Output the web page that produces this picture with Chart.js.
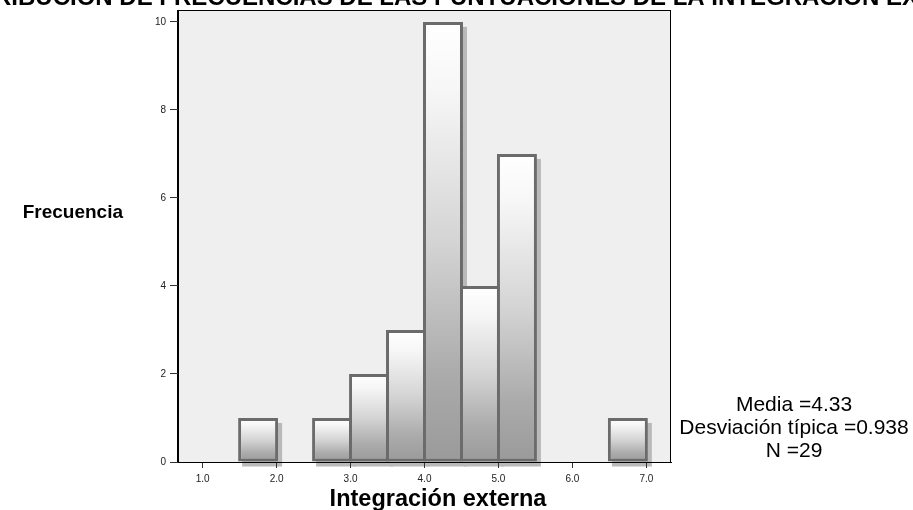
<!DOCTYPE html>
<html>
<head>
<meta charset="utf-8">
<script src="https://cdn.jsdelivr.net/npm/chart.js@4/dist/chart.umd.min.js"></script>
<style>
  html, body { margin: 0; padding: 0; background: #ffffff; }
  #wrap { width: 913px; height: 510px; position: relative; }
</style>
</head>
<body>
<div id="wrap"><canvas id="c" width="913" height="510"></canvas></div>
<script>
// ---- data ----
const binCenters = [1.75, 2.75, 3.25, 3.75, 4.25, 4.75, 5.25, 6.75];
const frequencies = [1, 1, 2, 3, 10, 4, 7, 1];
const xTickValues = [1, 2, 3, 4, 5, 6, 7];
const xTickLabels = ['1.0', '2.0', '3.0', '4.0', '5.0', '6.0', '7.0'];
const yTickValues = [0, 2, 4, 6, 8, 10];
const yTickLabels = ['0', '2', '4', '6', '8', '10'];
const chartTitle = 'DISTRIBUCIÓN DE FRECUENCIAS DE LAS PUNTUACIONES DE LA INTEGRACIÓN EXTERNA';
const xAxisTitle = 'Integración externa';
const yAxisTitle = 'Frecuencia';
const statsLines = ['Media =4.33', 'Desviación típica =0.938', 'N =29'];

const FONT = 'Arial, "Liberation Sans", Helvetica, sans-serif';

const histPoints = binCenters.map((x, i) => ({ x: x, y: frequencies[i] }));

function barGradient(ctx) {
  const chart = ctx.chart;
  if (ctx.type !== 'data' || !ctx.raw || !chart.scales || !chart.scales.y) return '#d0d0d0';
  const ys = chart.scales.y;
  const top = ys.getPixelForValue(ctx.raw.y);
  const bot = ys.getPixelForValue(0);
  if (!isFinite(top) || !isFinite(bot) || top === bot) return '#d0d0d0';
  const g = chart.ctx.createLinearGradient(0, top, 0, bot);
  g.addColorStop(0, '#ffffff');
  g.addColorStop(0.15, '#f7f7f7');
  g.addColorStop(0.5, '#d4d4d4');
  g.addColorStop(0.8, '#ababab');
  g.addColorStop(1, '#9a9a9a');
  return g;
}

const decorPlugin = {
  id: 'decor',
  beforeDraw(chart) {
    const { ctx, chartArea: a } = chart;
    ctx.save();
    ctx.fillStyle = '#efefef';
    ctx.fillRect(a.left, a.top, a.right - a.left, a.bottom - a.top);
    // drop shadows of bars
    ctx.fillStyle = '#b9b9b9';
    const meta = chart.getDatasetMeta(0);
    meta.data.forEach(el => {
      const p = el.getProps(['x', 'y', 'base', 'width'], true);
      ctx.fillRect(p.x - p.width / 2 + 4, p.y + 5, p.width, p.base - p.y);
    });
    // frame
    ctx.strokeStyle = '#000000';
    ctx.lineWidth = 1;
    ctx.strokeRect(Math.round(a.left) - 0.5, Math.round(a.top) + 0.5,
                   Math.round(a.right - a.left), Math.round(a.bottom - a.top));
    ctx.restore();
  },
  afterDraw(chart) {
    const { ctx } = chart;
    ctx.save();
    ctx.fillStyle = '#000000';
    // main title (partly cut by the top edge)
    ctx.font = 'bold 24px ' + FONT;
    ctx.textAlign = 'center';
    ctx.textBaseline = 'alphabetic';
    ctx.fillText(chartTitle, 470, 5);
    // y axis title (horizontal)
    ctx.font = 'bold 19px ' + FONT;
    ctx.textAlign = 'right';
    ctx.textBaseline = 'middle';
    ctx.fillText(yAxisTitle, 123, 213);
    // x axis title
    ctx.font = 'bold 23.5px ' + FONT;
    ctx.textAlign = 'center';
    ctx.textBaseline = 'alphabetic';
    ctx.fillText(xAxisTitle, 438, 506);
    // statistics box
    ctx.font = '21px ' + FONT;
    ctx.textAlign = 'center';
    ctx.textBaseline = 'middle';
    statsLines.forEach((s, i) => ctx.fillText(s, 794, 405 + i * 23));
    ctx.restore();
  }
};

new Chart(document.getElementById('c'), {
  type: 'bar',
  data: {
    datasets: [{
      data: histPoints,
      backgroundColor: barGradient,
      borderColor: '#6b6b6b',
      borderWidth: 3,
      borderSkipped: false,
      barPercentage: 1.081,
      categoryPercentage: 1
    }]
  },
  plugins: [decorPlugin],
  options: {
    responsive: false,
    animation: false,
    devicePixelRatio: 1,
    layout: { padding: { left: 0, right: 242, top: 9, bottom: 0 } },
    plugins: { legend: { display: false }, tooltip: { enabled: false }, title: { display: false } },
    scales: {
      x: {
        type: 'linear',
        offset: false,
        min: 0.6667,
        max: 7.3333,
        afterBuildTicks(scale) { scale.ticks = xTickValues.map(v => ({ value: v })); },
        afterFit(scale) { scale.height = 48; },
        ticks: {
          autoSkip: false,
          maxRotation: 0,
          padding: 5,
          color: '#222222',
          font: { family: FONT, size: 10 },
          callback: (v, i) => xTickLabels[i]
        },
        grid: { offset: false, drawOnChartArea: false, drawTicks: true, tickLength: 6, tickColor: '#333333' },
        border: { display: true, color: '#000000', width: 1 }
      },
      y: {
        type: 'linear',
        min: 0,
        max: 10.27,
        afterBuildTicks(scale) { scale.ticks = yTickValues.map(v => ({ value: v })); },
        afterFit(scale) { scale.width = 178; },
        ticks: {
          padding: 4,
          color: '#222222',
          font: { family: FONT, size: 10 },
          callback: (v, i) => yTickLabels[i]
        },
        grid: { drawOnChartArea: false, drawTicks: true, tickLength: 8, tickColor: '#333333' },
        border: { display: true, color: '#000000', width: 1 }
      }
    }
  }
});
</script>
</body>
</html>
